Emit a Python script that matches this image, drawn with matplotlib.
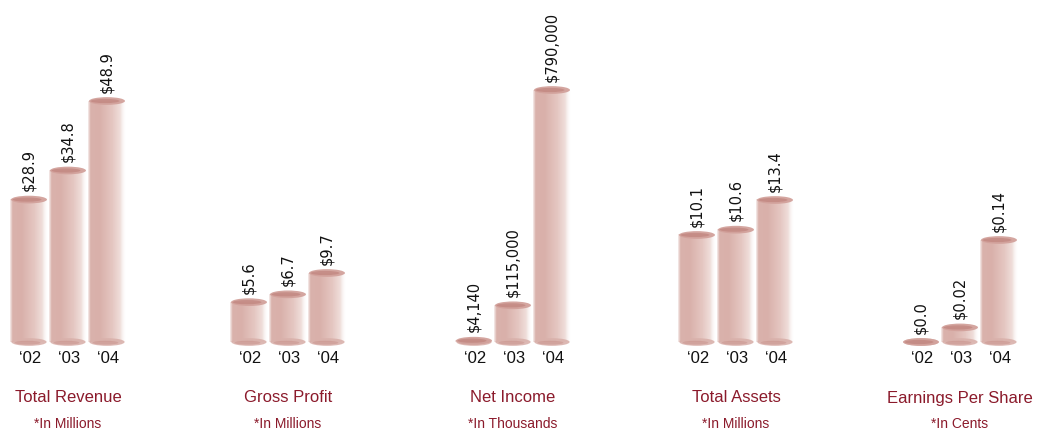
import matplotlib
matplotlib.use("Agg")
import matplotlib.pyplot as plt
import numpy as np
from matplotlib.patches import Ellipse

plt.rcParams["font.family"] = ["Liberation Sans", "DejaVu Sans"]

YEARS = ["\u201802", "\u201803", "\u201804"]

TITLES = ["Total Revenue", "Gross Profit", "Net Income", "Total Assets", "Earnings Per Share"]
UNITS = ["*In Millions", "*In Millions", "*In Thousands", "*In Millions", "*In Cents"]

revenue = [28.9, 34.8, 48.9]
gross_profit = [5.6, 6.7, 9.7]
net_income = [4140, 115000, 790000]
total_assets = [10.1, 10.6, 13.4]
eps = [0.0, 0.02, 0.14]

revenue_labels = ["$28.9", "$34.8", "$48.9"]
gross_labels = ["$5.6", "$6.7", "$9.7"]
income_labels = ["$4,140", "$115,000", "$790,000"]
assets_labels = ["$10.1", "$10.6", "$13.4"]
eps_labels = ["$0.0", "$0.02", "$0.14"]

SERIES = [revenue, gross_profit, net_income, total_assets, eps]
LABELS = [revenue_labels, gross_labels, income_labels, assets_labels, eps_labels]

# layout (pixels in a 1037x433 canvas)
W, H = 1037, 433
CENTERS = [68, 288, 513, 736, 960]
TALLEST_PX = [241, 69, 252, 142, 102]
BASE_PX = 342
AX_H_PX = 260
PITCH_PX = 39
BAR_W = 0.95
TITLE_RED = "#8b1a2b"

# horizontal gradient for the cylinder body: (position, rgb, alpha)
stops = [
    (0.00, (226, 196, 191), 0.35),
    (0.06, (218, 178, 172), 1.0),
    (0.30, (217, 176, 170), 1.0),
    (0.65, (229, 199, 194), 1.0),
    (0.85, (238, 218, 214), 0.9),
    (1.00, (250, 244, 243), 0.0),
]
n = 80
t = np.linspace(0, 1, n)
pos = [s[0] for s in stops]
grad = np.zeros((1, n, 4))
for c in range(3):
    grad[0, :, c] = np.interp(t, pos, [s[1][c] / 255 for s in stops])
grad[0, :, 3] = np.interp(t, pos, [s[2] for s in stops])

fig = plt.figure(figsize=(W / 100, H / 100), dpi=100)

for k in range(5):
    vals = SERIES[k]
    ax_w_px = PITCH_PX * 3
    left = (CENTERS[k] - ax_w_px / 2) / W
    bottom = (H - BASE_PX) / H
    ax = fig.add_axes([left, bottom, ax_w_px / W, AX_H_PX / H])
    ymax = max(vals) * AX_H_PX / TALLEST_PX[k]
    ax.set_xlim(-0.5, 2.5)
    ax.set_ylim(0, ymax)
    ax.axis("off")

    ell_h = 7 * ymax / AX_H_PX  # 7 px in data units
    x = np.arange(3)
    bars = ax.bar(x, vals, width=BAR_W, color="none", edgecolor="none")
    for b, v, lab in zip(bars, vals, LABELS[k]):
        x0 = b.get_x()
        bw = b.get_width()
        xc = x0 + bw / 2
        ax.imshow(grad, extent=(x0, x0 + bw, 0, v), aspect="auto", zorder=2,
                  interpolation="bilinear")
        # bottom shading
        ax.add_patch(Ellipse((xc, 0), bw * 0.95, ell_h * 1.1,
                             facecolor="#d9b1ab", edgecolor="none", alpha=0.9,
                             zorder=3, clip_on=False))
        ax.add_patch(Ellipse((xc - 0.04, -ell_h * 0.1), bw * 0.7,
                             ell_h * 0.55, facecolor="#c48a83", edgecolor="none",
                             alpha=0.45, zorder=3, clip_on=False))
        # top cap
        ax.add_patch(Ellipse((xc, v), bw * 0.97, ell_h * 1.1,
                             facecolor="#d2a19b", edgecolor="none", alpha=0.95,
                             zorder=4, clip_on=False))
        ax.add_patch(Ellipse((xc - 0.05, v), bw * 0.78, ell_h * 0.6,
                             facecolor="#bb7c75", edgecolor="none", alpha=0.55,
                             zorder=4, clip_on=False))
        ax.annotate(lab, (xc, v), xytext=(0, 6), textcoords="offset points",
                    rotation=90, ha="center", va="bottom", fontsize=10.5,
                    family="DejaVu Sans", color="#111111", annotation_clip=False)
        ax.annotate(YEARS[int(round(xc))], (xc, 0), xytext=(1, -12),
                    textcoords="offset points", ha="center", va="center",
                    fontsize=12, color="#111111", annotation_clip=False)

    fig.text(CENTERS[k] / W, 1 - 398 / H, TITLES[k], ha="center", va="center",
             fontsize=12, color=TITLE_RED)
    fig.text(CENTERS[k] / W, 1 - 424 / H, UNITS[k], ha="center", va="center",
             fontsize=10, color=TITLE_RED)

fig.savefig("out.png", dpi=100)
